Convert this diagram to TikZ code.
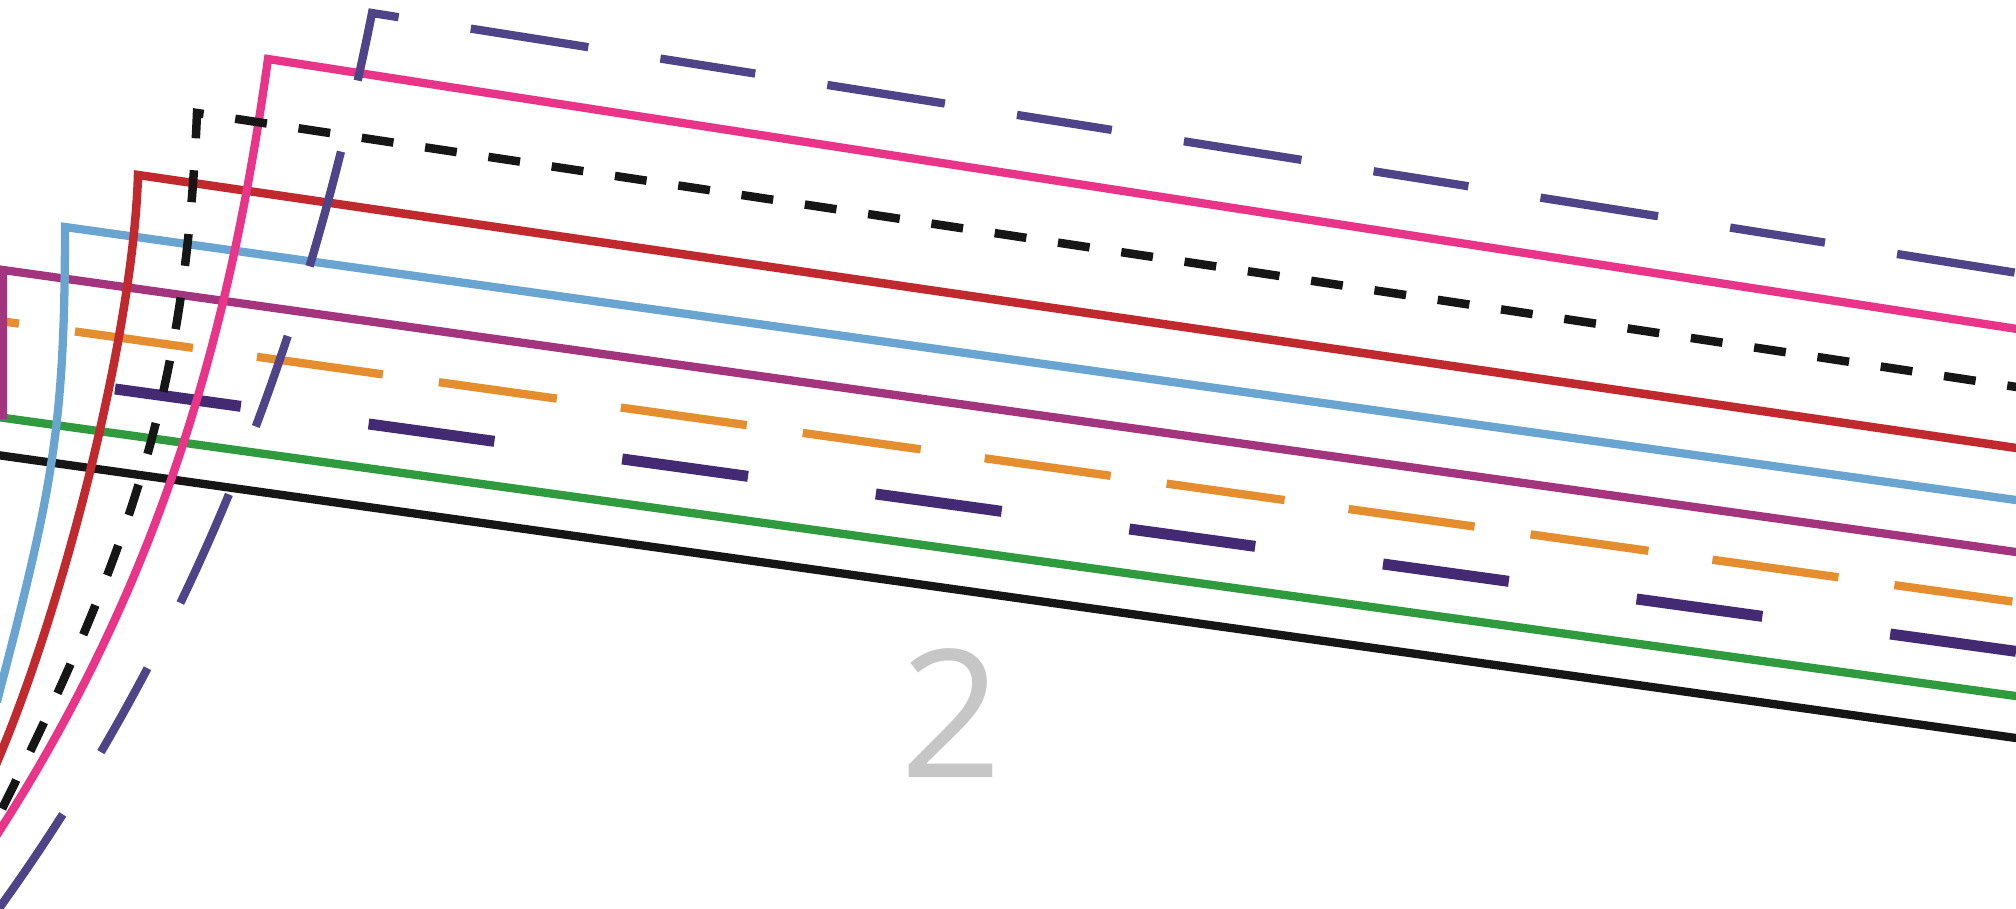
\documentclass[tikz,border=0pt]{standalone}
\usepackage{fontspec}
\newfontfamily\opensans{Open Sans}
\definecolor{cPink}{HTML}{E8358A}
\definecolor{cRed}{HTML}{C02A2E}
\definecolor{cBlue}{HTML}{6AA5D1}
\definecolor{cMag}{HTML}{A3357F}
\definecolor{cOrange}{HTML}{E48E2F}
\definecolor{cDeep}{HTML}{432A72}
\definecolor{cGreen}{HTML}{2F9A3E}
\definecolor{cBlack}{HTML}{161616}
\definecolor{cLilac}{HTML}{4E4487}
\definecolor{cGray}{HTML}{C6C6C6}
\tikzset{
  trackbase/.style={line width=8.3pt, line join=miter, line cap=butt},
  pinkline/.style={trackbase, draw=cPink},
  redline/.style={trackbase, line width=8.5pt, draw=cRed},
  blueline/.style={trackbase, draw=cBlue},
  magline/.style={trackbase, draw=cMag},
  orangeline/.style={trackbase, draw=cOrange, dash pattern=on 119.1pt off 64.6pt on 127.2pt off 56.5pt, dash phase=291.7pt},
  deepline/.style={trackbase, line width=11pt, draw=cDeep, dash pattern=on 127pt off 129pt, dash phase=139.9pt},
  greenline/.style={trackbase, draw=cGreen},
  blackline/.style={trackbase, draw=cBlack},
  blackdash/.style={trackbase, line width=8.5pt, draw=cBlack, dash pattern=on 32pt off 32pt, dash phase=9pt},
  lilacline/.style={trackbase, draw=cLilac, dash pattern=on 96pt off 73pt on 119pt off 73pt, dash phase=153.4pt},
  numlabel/.style={font=\fontsize{178}{200}\selectfont\opensans, text=cGray, anchor=base, inner sep=0pt}
}
\begin{document}
\begin{tikzpicture}[x=1pt,y=-1pt]
\useasboundingbox (0,0) rectangle (2016,909);
\clip (0,0) rectangle (2016,909);
% straight lines (bottom layers)
\draw[greenline] (-10,416) -- (2030,698);
\draw[blackline] (-10,454) -- (2030,740);
\draw[orangeline] (0,321) -- (2030,604);
\draw[deepline] (0,373.1) -- (2030,653.3);
\draw[magline] (2030,554) -- (3,270) -- (3,419);
% bent lines
\draw[blueline] (2030,502) -- (65,227) .. controls (65,427) and (52,490) .. (0,690) -- (-3,702);
\draw[redline] (2030,450) -- (138,175) .. controls (133.4,330) and (65,600) .. (0,755) -- (-5,767);
\draw[pinkline] (2030,331) -- (268,59) .. controls (231.5,320) and (167,569) .. (0,830) -- (-10,846);
\draw[blackdash] (2030,389) -- (197,113) .. controls (186,383) and (135,543) .. (0,813) -- (-6,825);
\draw[lilacline] (2030,275) -- (372,13) .. controls (313.6,305) and (210,615) .. (0,907) -- (-8,918);
\node[numlabel] (num) at (951,777) {2};
\end{tikzpicture}
\end{document}
